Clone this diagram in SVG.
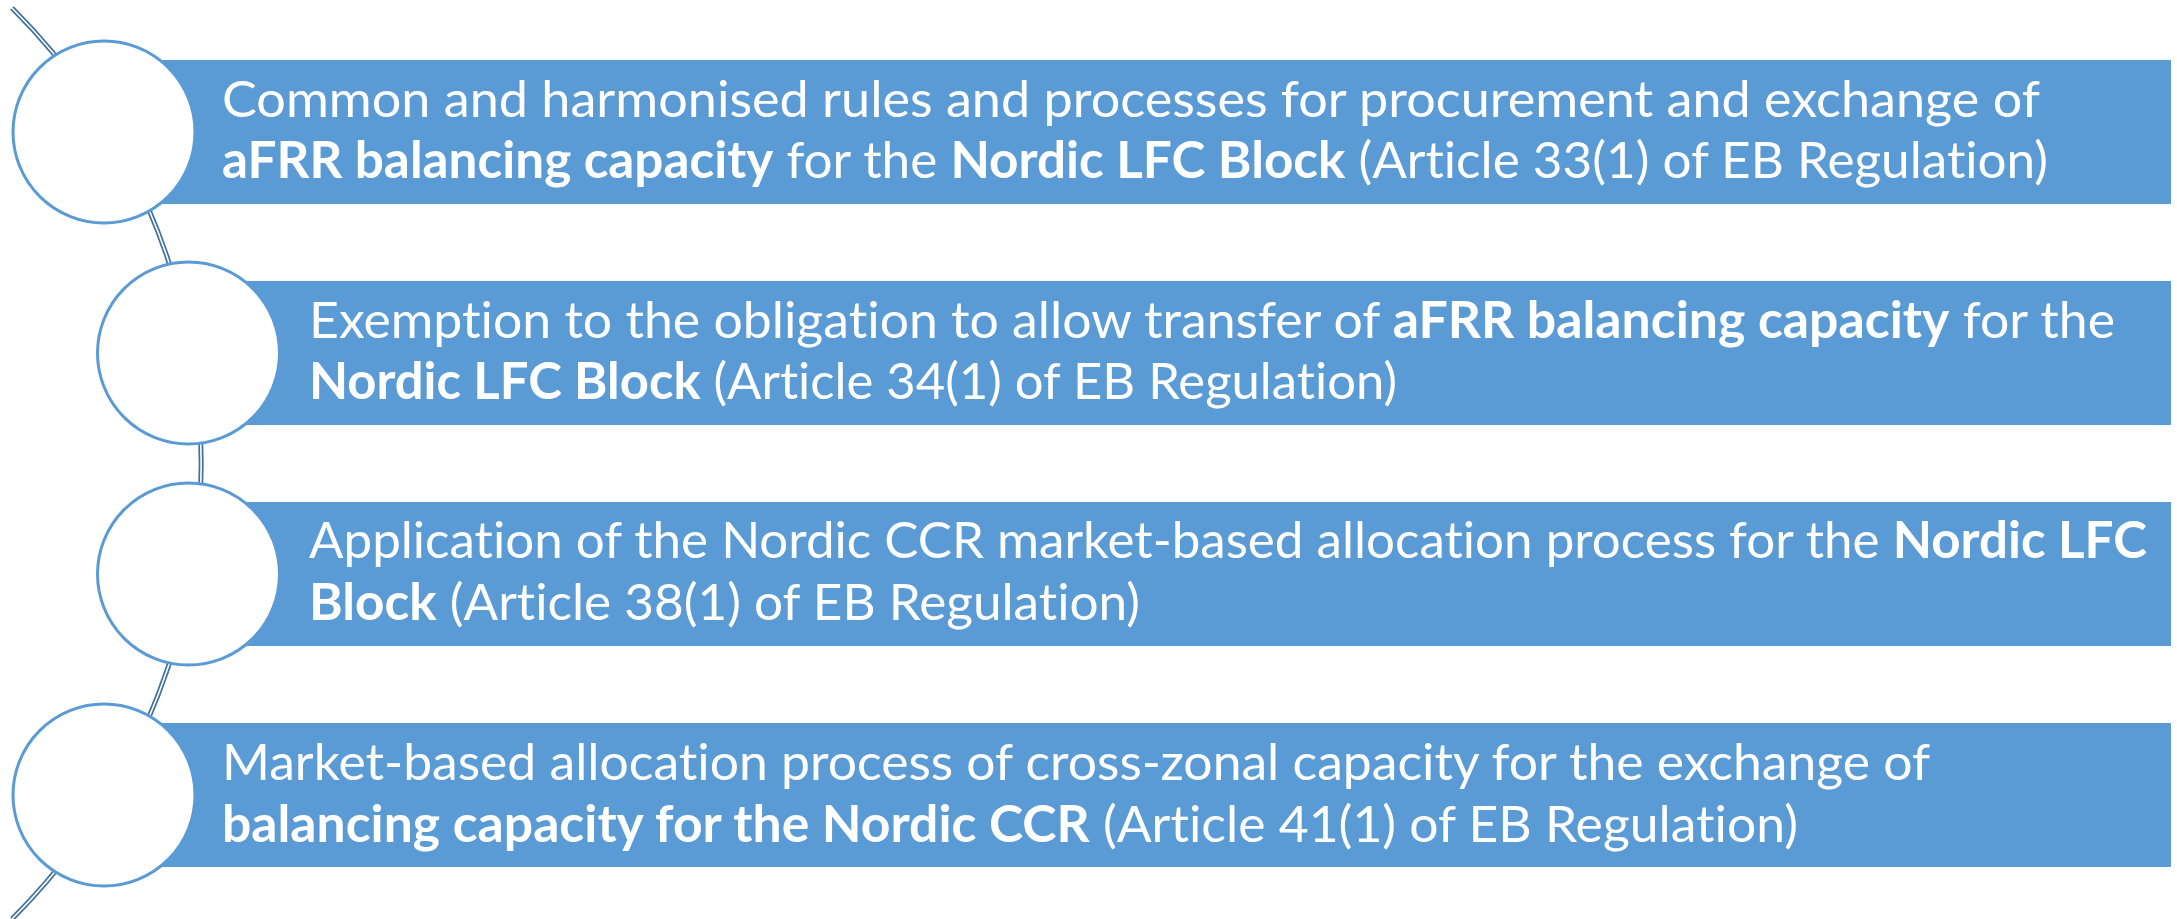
<svg xmlns="http://www.w3.org/2000/svg" width="2177" height="919" viewBox="0 0 2177 919">
<style>
.bar{fill:#5B9BD5;}
.dot{fill:#FFFFFF;stroke:#5B9BD5;stroke-width:3;}
.t{font-family:Lato,"Noto Sans","Liberation Sans",sans-serif;font-size:51px;fill:#FFFFFF;font-variant-ligatures:none;font-feature-settings:"liga" 0,"clig" 0;}
.b{font-weight:bold;}
.c1{fill:none;stroke:#41719C;stroke-width:5;}
.c2{fill:none;stroke:#FFFFFF;stroke-width:1.6;}
</style>
<rect width="2177" height="919" fill="#FFFFFF"/>
<g id="connectors">
<path class="c1" d="M 12 8 A 643 643 0 0 1 12 919"/>
<path class="c2" d="M 12 8 A 643 643 0 0 1 12 919"/>
</g>
<g id="node1">
<rect class="bar" x="104" y="60" width="2067" height="144"/>
<circle class="dot" cx="104" cy="132" r="91"/>
<text class="t" x="222" y="117" textLength="1818" lengthAdjust="spacingAndGlyphs">Common and harmonised rules and processes for procurement and exchange of</text>
<text class="t" x="222" y="178" textLength="1826" lengthAdjust="spacingAndGlyphs"><tspan class="b">aFRR balancing capacity</tspan> for the <tspan class="b">Nordic LFC Block</tspan> (Article 33(1) of EB Regulation)</text>
</g>
<g id="node2">
<rect class="bar" x="188" y="281" width="1983" height="144"/>
<circle class="dot" cx="188.5" cy="353" r="91"/>
<text class="t" x="309" y="338" textLength="1806" lengthAdjust="spacingAndGlyphs">Exemption to the obligation to allow transfer of <tspan class="b">aFRR balancing capacity</tspan> for the</text>
<text class="t" x="309" y="399" textLength="1088" lengthAdjust="spacingAndGlyphs"><tspan class="b">Nordic LFC Block</tspan> (Article 34(1) of EB Regulation)</text>
</g>
<g id="node3">
<rect class="bar" x="188" y="502" width="1983" height="144"/>
<circle class="dot" cx="188.5" cy="574" r="91"/>
<text class="t" x="309" y="558" textLength="1838" lengthAdjust="spacingAndGlyphs">Application of the Nordic CCR market-based allocation process for the <tspan class="b">Nordic LFC</tspan></text>
<text class="t" x="309" y="620" textLength="831" lengthAdjust="spacingAndGlyphs"><tspan class="b">Block</tspan> (Article 38(1) of EB Regulation)</text>
</g>
<g id="node4">
<rect class="bar" x="104" y="723" width="2067" height="144"/>
<circle class="dot" cx="104" cy="795" r="91"/>
<text class="t" x="222" y="780" textLength="1708" lengthAdjust="spacingAndGlyphs">Market-based allocation process of cross-zonal capacity for the exchange of</text>
<text class="t" x="222" y="842" textLength="1576" lengthAdjust="spacingAndGlyphs"><tspan class="b">balancing capacity for the Nordic CCR</tspan> (Article 41(1) of EB Regulation)</text>
</g>
</svg>
